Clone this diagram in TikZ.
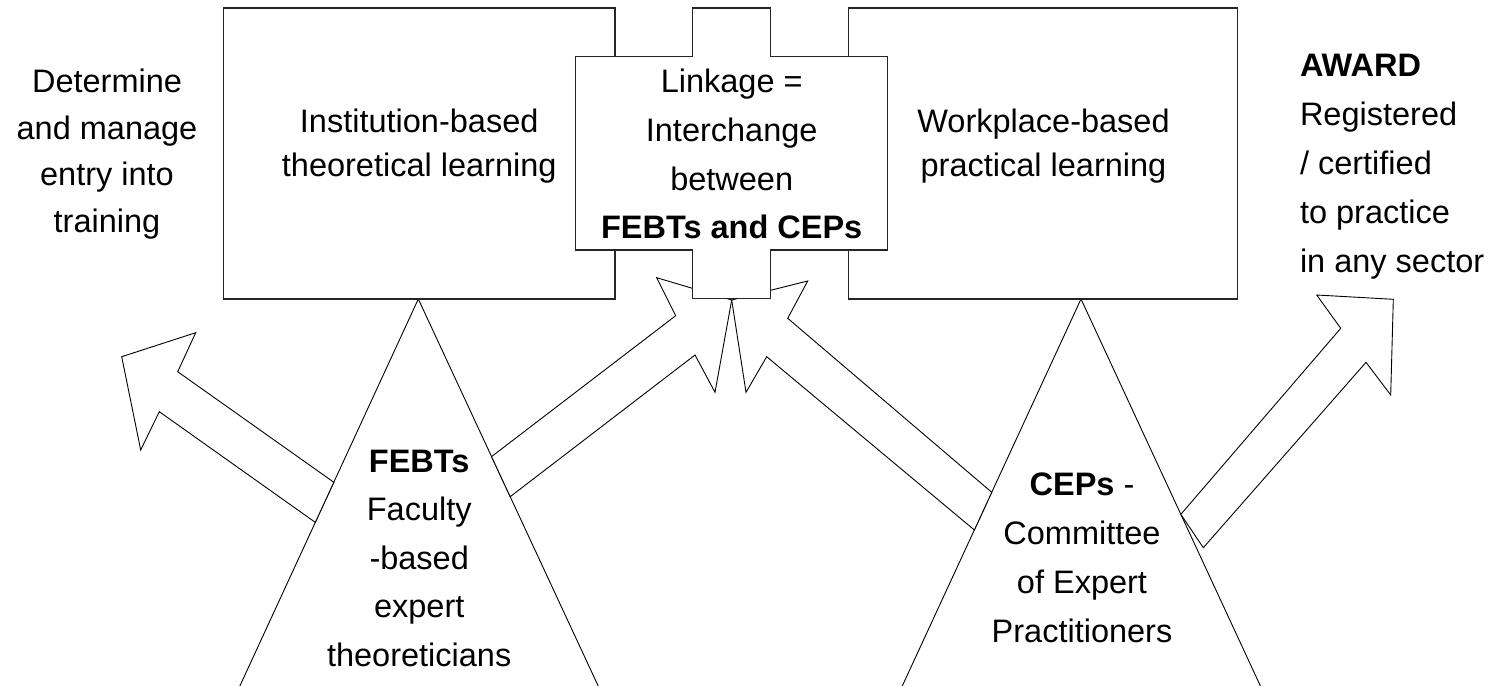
\documentclass[tikz,border=0pt]{standalone}
\usepackage{fontspec}
\setmainfont{Liberation Sans}
\usetikzlibrary{calc}
\newcommand{\txtblock}[2]{\begin{tabular}[t]{@{}#1@{}}#2\end{tabular}}
\begin{document}
\begin{tikzpicture}[x=1pt,y=-1pt,
  shapeline/.style={draw=black,line width=0.9pt,fill=white,line join=miter},
  boxline/.style={draw=black!85,line width=1.1pt,fill=white},
  txt/.style={inner sep=0pt,outer sep=0pt,font=\fontsize{32.5}{#1}\selectfont},
  txt/.default=47]
\path[use as bounding box] (0,0) rectangle (1495,685);
\clip (0,0) rectangle (1495,685);

% triangles
\coordinate (lapex) at (418.3,299);
\coordinate (lbl) at (233.4,700);
\coordinate (lbr) at (604.7,700);
\coordinate (rapex) at (1081,299);
\coordinate (rbl) at (895.8,700);
\coordinate (rbr) at (1266.9,700);
\path[shapeline] (lapex) -- (lbr) -- (lbl) -- cycle;
\path[shapeline] (rapex) -- (rbr) -- (rbl) -- cycle;

% arrow from left triangle to the left
\path[shapeline] ($(lapex)!0.457!(lbl)$) -- (177.7,371.7) -- (195.7,332.7)
  -- (121.7,356.7) -- (140.7,450) -- (159.3,411.7) -- ($(lapex)!0.557!(lbl)$) -- cycle;
% arrow from left triangle to linkage
\path[shapeline] ($(lapex)!0.393!(lbr)$) -- (675.7,315.7) -- (656.7,277.7)
  -- (731.7,300) -- (715,392.3) -- (695,355) -- ($(lapex)!0.493!(lbr)$) -- cycle;
% arrow from right triangle to linkage
\path[shapeline] ($(rapex)!0.482!(rbl)$) -- (787.7,318.3) -- (807.7,281)
  -- (731.7,300) -- (746,392.3) -- (766.7,356.7) -- ($(rapex)!0.576!(rbl)$) -- cycle;
% arrow from right triangle to award
\path[shapeline] ($(rapex)!0.537!(rbr)$) -- (1340.7,328.3) -- (1316.7,295)
  -- (1393.3,299.3) -- (1390.7,395) -- (1366,362.3) -- (1203.3,547.7) -- cycle;

% boxes
\path[boxline] (223.3,8) rectangle (615,299);
\path[boxline] (848.7,8) rectangle (1237.7,299);
\path[boxline] (575.7,56.7) -- (692.7,56.7) -- (692.7,8) -- (770.7,8) -- (770.7,56.7)
  -- (887.7,56.7) -- (887.7,250) -- (770.7,250) -- (770.7,298.7) -- (692.7,298.7)
  -- (692.7,250) -- (575.7,250) -- cycle;

% texts
\node[txt=46.7,anchor=base] (entry) at (107,92.3)
  {\txtblock{c}{Determine\\and manage\\entry into\\training}};
\node[txt=44.5,anchor=base] (inst) at (419.2,132)
  {\txtblock{c}{Institution-based\\theoretical learning}};
\node[txt=44.5,anchor=base] (work) at (1043.5,132)
  {\txtblock{c}{Workplace-based\\practical learning}};
\node[txt=48.7,anchor=base] (link) at (731.7,92.7)
  {\txtblock{c}{Linkage =\\Interchange\\between\\\textbf{FEBTs and CEPs}}};
\node[txt=48.5,anchor=base] (febt) at (419.2,472.3)
  {\txtblock{c}{\textbf{FEBTs}\\Faculty\\-based\\expert\\theoreticians}};
\node[txt=49,anchor=base] (ceps) at (1082,495)
  {\txtblock{c}{\textbf{CEPs} -\\Committee\\of Expert\\Practitioners}};
\node[txt=49,anchor=base west] (award) at (1300,76)
  {\txtblock{l}{\textbf{AWARD}\\Registered\\/ certified\\to practice\\in any sector}};
\end{tikzpicture}
\end{document}
